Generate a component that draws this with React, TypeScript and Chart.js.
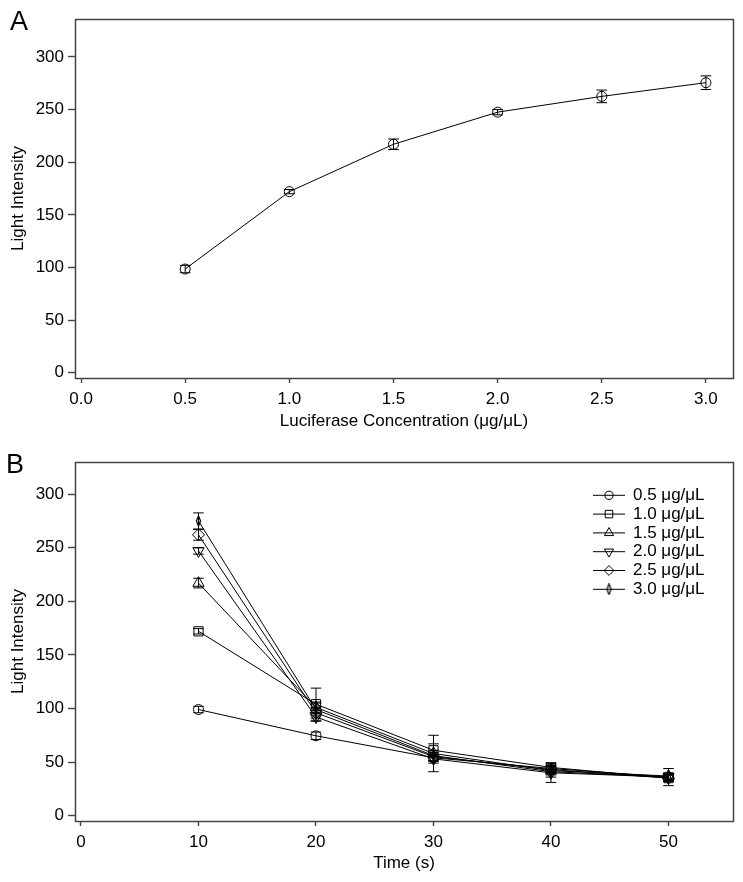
import React, { useEffect, useRef } from "react";
import { Chart, registerables } from "chart.js";

Chart.register(...registerables);

const FONT = "'Liberation Sans', Arial, Helvetica, sans-serif";

// ---------- Panel A data ----------
const concA = [0.5, 1.0, 1.5, 2.0, 2.5, 3.0];
const intensityA = [98.5, 172, 217, 247.5, 262.5, 275.5];
const errorA = [3.5, 2, 5, 2.5, 6, 6.5];
const xTicksA = [0, 0.5, 1.0, 1.5, 2.0, 2.5, 3.0];
const yTicks = [0, 50, 100, 150, 200, 250, 300];

// ---------- Panel B data ----------
const timeB = [10, 20, 30, 40, 50];
const xTicksB = [0, 10, 20, 30, 40, 50];
const seriesLabels = ["0.5 μg/μL", "1.0 μg/μL", "1.5 μg/μL", "2.0 μg/μL", "2.5 μg/μL", "3.0 μg/μL"];
const s05 = [99, 74.5, 54, 44, 36];
const s10 = [172, 104, 61, 45, 35];
const s15 = [217, 101, 58, 42, 37];
const s20 = [247, 92, 53, 40, 36];
const s25 = [262, 96, 55, 43, 35];
const s30 = [275, 99, 56, 41, 36];
const e05 = [3, 3.5, 3, 3, 2.5];
const e10 = [2.5, 15, 6, 4, 3];
const e15 = [4.5, 5, 17, 4, 3];
const e20 = [3, 4, 4, 9, 3];
const e25 = [5, 5, 4, 4, 3];
const e30 = [7.5, 6, 5, 5, 8];

type MarkerKind = "circle" | "rect" | "triangle" | "triangleDown" | "diamond" | "thin";
const markerKinds: MarkerKind[] = ["circle", "rect", "triangle", "triangleDown", "diamond", "thin"];
const markerRadius: Record<MarkerKind, number> = {
  circle: 5,
  rect: 6.5,
  triangle: 6.5,
  triangleDown: 6.5,
  diamond: 6,
  thin: 5,
};

function makeThinDiamond(): HTMLCanvasElement {
  const c = document.createElement("canvas");
  c.width = 7;
  c.height = 12;
  const g = c.getContext("2d")!;
  g.strokeStyle = "#000";
  g.lineWidth = 1.2;
  g.beginPath();
  g.moveTo(3.5, 0.8);
  g.lineTo(5.6, 6);
  g.lineTo(3.5, 11.2);
  g.lineTo(1.4, 6);
  g.closePath();
  g.stroke();
  return c;
}

function drawMarker(ctx: CanvasRenderingContext2D, kind: MarkerKind, x: number, y: number, r: number, thin: HTMLCanvasElement) {
  ctx.beginPath();
  if (kind === "circle") {
    ctx.arc(x, y, r, 0, Math.PI * 2);
  } else if (kind === "rect") {
    const s = r * Math.SQRT1_2;
    ctx.rect(x - s, y - s, 2 * s, 2 * s);
  } else if (kind === "triangle" || kind === "triangleDown") {
    let rad = kind === "triangle" ? 0 : Math.PI;
    for (let k = 0; k < 3; k++) {
      const px = x + Math.sin(rad) * r;
      const py = y - Math.cos(rad) * r;
      if (k === 0) ctx.moveTo(px, py);
      else ctx.lineTo(px, py);
      rad += (2 * Math.PI) / 3;
    }
    ctx.closePath();
  } else if (kind === "diamond") {
    ctx.moveTo(x, y - r);
    ctx.lineTo(x + r, y);
    ctx.lineTo(x, y + r);
    ctx.lineTo(x - r, y);
    ctx.closePath();
  } else {
    ctx.drawImage(thin, x - thin.width / 2, y - thin.height / 2, thin.width, thin.height);
    return;
  }
  ctx.stroke();
}

const errorBarPlugin = {
  id: "errorBars",
  afterDatasetsDraw(chart: any) {
    const ctx = chart.ctx as CanvasRenderingContext2D;
    const ys = chart.scales.y;
    chart.data.datasets.forEach((ds: any, di: number) => {
      const errs: number[] | undefined = ds.errors;
      if (!errs) return;
      const meta = chart.getDatasetMeta(di);
      meta.data.forEach((pt: any, i: number) => {
        const v = ds.data[i].y;
        const e = errs[i];
        const x = pt.x;
        const top = ys.getPixelForValue(v + e);
        const bot = ys.getPixelForValue(v - e);
        ctx.save();
        ctx.strokeStyle = "#000";
        ctx.lineWidth = 1;
        ctx.beginPath();
        ctx.moveTo(x, top);
        ctx.lineTo(x, bot);
        ctx.moveTo(x - 5.3, top);
        ctx.lineTo(x + 5.3, top);
        ctx.moveTo(x - 5.3, bot);
        ctx.lineTo(x + 5.3, bot);
        ctx.stroke();
        ctx.restore();
      });
    });
  },
};

const framePlugin = {
  id: "frameBox",
  afterDraw(chart: any, _args: any, opts: any) {
    const ctx = chart.ctx as CanvasRenderingContext2D;
    const a = chart.chartArea;
    ctx.save();
    ctx.strokeStyle = "#444";
    ctx.lineWidth = 1.5;
    ctx.strokeRect(Math.round(a.left) + 0.5, Math.round(a.top) + 0.5, Math.round(a.right - a.left), Math.round(a.bottom - a.top));
    if (opts && opts.letter) {
      ctx.fillStyle = "#000";
      ctx.font = `27px ${FONT}`;
      ctx.textAlign = "left";
      ctx.textBaseline = "alphabetic";
      ctx.fillText(opts.letter, opts.lx, opts.ly);
    }
    ctx.restore();
  },
};

function makeLegendPlugin(thin: HTMLCanvasElement) {
  return {
    id: "insideLegend",
    afterDraw(chart: any, _args: any, opts: any) {
      if (!opts || !opts.show) return;
      const ctx = chart.ctx as CanvasRenderingContext2D;
      const a = chart.chartArea;
      ctx.save();
      ctx.strokeStyle = "#000";
      ctx.fillStyle = "#000";
      ctx.lineWidth = 1;
      ctx.font = `17px ${FONT}`;
      ctx.textAlign = "left";
      ctx.textBaseline = "middle";
      chart.data.datasets.forEach((ds: any, i: number) => {
        const y = a.top + 33.3 + i * 18.8;
        const x0 = a.right - 140;
        const x1 = a.right - 108;
        const xm = (x0 + x1) / 2;
        ctx.beginPath();
        ctx.moveTo(x0, y);
        ctx.lineTo(x1, y);
        ctx.stroke();
        const kind = ds.markerKind as MarkerKind;
        drawMarker(ctx, kind, xm, y, markerRadius[kind] * 0.82, thin);
        ctx.fillText(ds.label, a.right - 100, y);
      });
      ctx.restore();
    },
  };
}

function buildOptions(p: {
  xMin: number;
  xMax: number;
  yMin: number;
  yMax: number;
  xTicks: number[];
  xFmt: (v: number) => string;
  xTitle: string;
  top: number;
  xAxisHeight: number;
  letter: string;
  lx: number;
  ly: number;
  legend: boolean;
}) {
  const font = { family: FONT, size: 17 };
  return {
    responsive: false,
    animation: false,
    layout: { padding: { top: p.top, right: 10, left: 0, bottom: 0 } },
    plugins: {
      legend: { display: false },
      tooltip: { enabled: false },
      frameBox: { letter: p.letter, lx: p.lx, ly: p.ly },
      insideLegend: { show: p.legend },
    },
    scales: {
      x: {
        type: "linear",
        min: p.xMin,
        max: p.xMax,
        afterBuildTicks: (s: any) => {
          s.ticks = p.xTicks.map((v) => ({ value: v }));
        },
        afterFit: (s: any) => {
          s.height = p.xAxisHeight;
        },
        ticks: {
          font,
          color: "#000",
          padding: 6.5,
          autoSkip: false,
          maxRotation: 0,
          callback: (v: any) => p.xFmt(Number(v)),
        },
        grid: { drawOnChartArea: false, drawTicks: true, tickLength: 5, tickColor: "#444", tickWidth: 1.4 },
        border: { display: false },
        title: { display: true, text: p.xTitle, font, color: "#000", padding: { top: 0, bottom: 8.5 } },
      },
      y: {
        type: "linear",
        min: p.yMin,
        max: p.yMax,
        afterBuildTicks: (s: any) => {
          s.ticks = yTicks.map((v) => ({ value: v }));
        },
        afterFit: (s: any) => {
          s.width = 75;
        },
        ticks: { font, color: "#000", padding: 4, autoSkip: false, callback: (v: any) => String(v) },
        grid: { drawOnChartArea: false, drawTicks: true, tickLength: 7, tickColor: "#444", tickWidth: 1.4 },
        border: { display: false },
        title: { display: true, text: "Light Intensity", font, color: "#000", padding: { top: 8.3, bottom: 0 } },
      },
    },
  };
}

function pointStyleFor(kind: MarkerKind, thin: HTMLCanvasElement): any {
  switch (kind) {
    case "circle":
      return "circle";
    case "rect":
      return "rect";
    case "triangle":
    case "triangleDown":
      return "triangle";
    case "diamond":
      return "rectRot";
    default:
      return thin;
  }
}

export default function App() {
  const refA = useRef<HTMLCanvasElement>(null);
  const refB = useRef<HTMLCanvasElement>(null);

  useEffect(() => {
    document.body.style.margin = "0";
    const thin = makeThinDiamond();
    const legendPlugin = makeLegendPlugin(thin);

    const chartA = new Chart(refA.current!, {
      type: "line",
      data: {
        datasets: [
          {
            label: "A",
            data: concA.map((x, i) => ({ x, y: intensityA[i] })),
            errors: errorA,
            borderColor: "#000",
            borderWidth: 1,
            tension: 0,
            fill: false,
            pointStyle: "circle",
            pointRadius: markerRadius.circle,
            pointBorderColor: "#000",
            pointBackgroundColor: "rgba(0,0,0,0)",
            pointBorderWidth: 1,
          } as any,
        ],
      },
      options: buildOptions({
        xMin: -0.029,
        xMax: 3.13,
        yMin: -5,
        yMax: 336,
        xTicks: xTicksA,
        xFmt: (v) => v.toFixed(1),
        xTitle: "Luciferase Concentration (μg/μL)",
        top: 19,
        xAxisHeight: 62,
        letter: "A",
        lx: 10,
        ly: 30,
        legend: false,
      }) as any,
      plugins: [errorBarPlugin, framePlugin],
    });

    const seriesB = [s05, s10, s15, s20, s25, s30];
    const errorsB = [e05, e10, e15, e20, e25, e30];
    const chartB = new Chart(refB.current!, {
      type: "line",
      data: {
        datasets: seriesB.map((vals, si) => {
          const kind = markerKinds[si];
          return {
            label: seriesLabels[si],
            markerKind: kind,
            data: timeB.map((x, i) => ({ x, y: vals[i] })),
            errors: errorsB[si],
            borderColor: "#000",
            borderWidth: 1,
            tension: 0,
            fill: false,
            pointStyle: pointStyleFor(kind, thin),
            pointRotation: kind === "triangleDown" ? 180 : 0,
            pointRadius: markerRadius[kind],
            pointBorderColor: "#000",
            pointBackgroundColor: "rgba(0,0,0,0)",
            pointBorderWidth: 1,
          } as any;
        }),
      },
      options: buildOptions({
        xMin: -0.51,
        xMax: 55.49,
        yMin: -5,
        yMax: 330,
        xTicks: xTicksB,
        xFmt: (v) => String(v),
        xTitle: "Time (s)",
        top: 22,
        xAxisHeight: 61,
        letter: "B",
        lx: 6,
        ly: 33.3,
        legend: true,
      }) as any,
      plugins: [errorBarPlugin, framePlugin, legendPlugin],
    });

    return () => {
      chartA.destroy();
      chartB.destroy();
    };
  }, []);

  return (
    <div style={{ width: 743, background: "#fff" }}>
      <canvas ref={refA} width={743} height={440} style={{ display: "block" }} />
      <canvas ref={refB} width={743} height={442} style={{ display: "block" }} />
    </div>
  );
}
